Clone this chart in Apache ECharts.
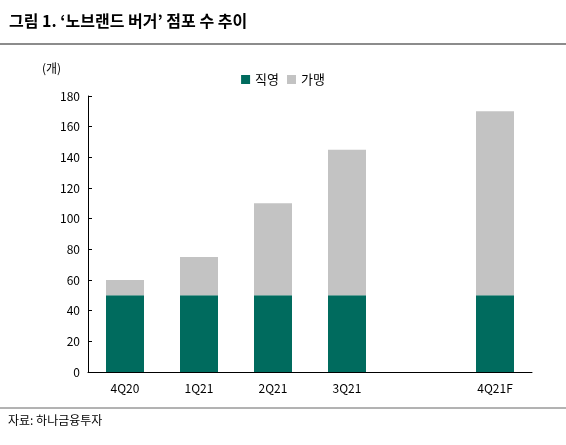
<!DOCTYPE html><html><head><meta charset="utf-8"><script src="https://cdn.jsdelivr.net/npm/echarts@6/dist/echarts.min.js"></script>
<style>body{margin:0;background:#fff}#c{width:566px;height:445px}</style></head><body><div id="c"></div><script>
const categories=['4Q20','1Q21','2Q21','3Q21','','4Q21F'];
const direct=[50,50,50,50,null,50];
const franchise=[10,25,60,95,null,120];
const yTicks=[0,20,40,60,80,100,120,140,160,180];
const f='"Noto Sans CJK KR", sans-serif';
const ch=echarts.init(document.getElementById('c'));
ch.setOption({animation:false,
title:{text:"그림 1. ‘노브랜드 버거’ 점포 수 추이",left:4,top:8,textStyle:{fontFamily:f,fontSize:16,fontWeight:'bold',color:'#000'}},
graphic:[{type:'line',shape:{x1:0,y1:44,x2:566,y2:44},style:{stroke:'#666',lineWidth:1.5}},
{type:'line',shape:{x1:0,y1:408,x2:566,y2:408},style:{stroke:'#666',lineWidth:1}},
{type:'text',left:8,top:414,style:{text:'자료: 하나금융투자',font:'12px '+f,fill:'#000'}},
{type:'text',left:42,top:62,style:{text:'(개)',font:'12px '+f,fill:'#000'}}],
legend:{top:68,left:'center',itemWidth:9,itemHeight:9,icon:'rect',textStyle:{fontFamily:f,fontSize:13,color:'#000'},data:['직영','가맹']},
grid:{left:88,right:34,top:96,bottom:73},
xAxis:{type:'category',data:categories,axisTick:{show:false},axisLine:{lineStyle:{color:'#000'}},axisLabel:{color:'#000',fontFamily:f,fontSize:12,margin:10}},
yAxis:{type:'value',min:0,max:180,interval:20,axisLine:{show:true,lineStyle:{color:'#000'}},axisTick:{show:true,length:4,inside:true},splitLine:{show:false},axisLabel:{color:'#000',fontFamily:f,fontSize:12}},
series:[{name:'직영',type:'bar',stack:'a',barWidth:38,data:direct,itemStyle:{color:'#006b5e'}},
{name:'가맹',type:'bar',stack:'a',barWidth:38,data:franchise,itemStyle:{color:'#c3c3c3'}}]});
</script></body></html>
